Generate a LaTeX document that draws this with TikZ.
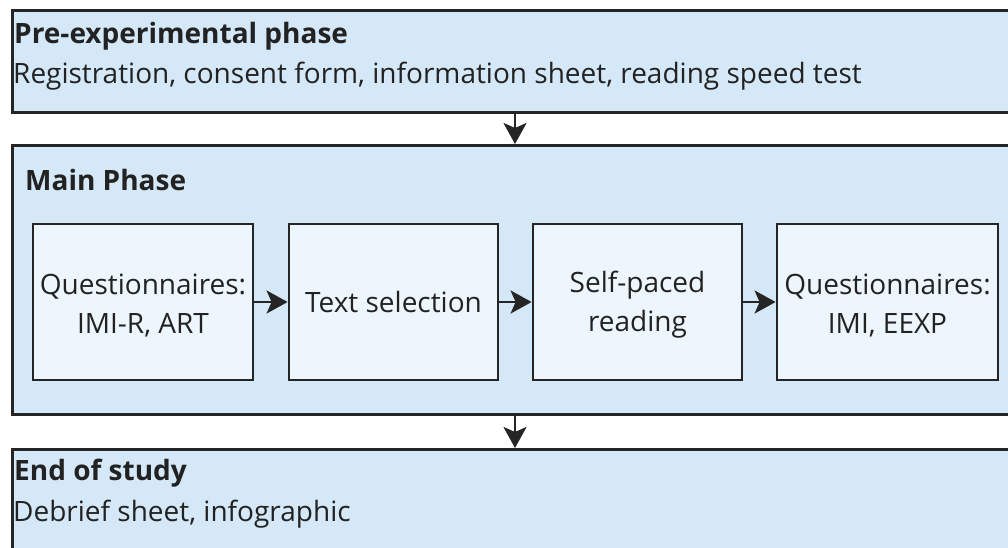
\documentclass[tikz,border=0pt]{standalone}
\usepackage{fontspec}
\setmainfont{Open Sans}
\usetikzlibrary{arrows.meta,calc}
\definecolor{phasefill}{HTML}{D4E8F8}
\definecolor{stepfill}{HTML}{EEF6FD}
\definecolor{edge}{HTML}{252525}
\definecolor{ink}{HTML}{222222}
\tikzset{
  phasebox/.style={draw=edge, fill=phasefill, line width=2.8pt, rectangle, inner sep=0pt, anchor=north west},
  stepbox/.style={draw=edge, fill=stepfill, line width=2.8pt, rectangle, inner sep=0pt,
    minimum width=220pt, minimum height=156pt, align=center, font=\fontsize{28}{39}\selectfont, text=ink},
  title/.style={anchor=west, font=\fontsize{28}{32}\selectfont\bfseries, text=ink, inner sep=0pt},
  body/.style={anchor=west, font=\fontsize{28}{32}\selectfont, text=ink, inner sep=0pt},
  flow/.style={draw=edge, line width=2.6pt, -{Stealth[length=21pt,width=23pt,inset=5pt]}},
}
\begin{document}
\begin{tikzpicture}[x=1pt,y=-1pt]
\useasboundingbox (0,0) rectangle (1008,547);
\clip (0,0) rectangle (1008,547);
% phase containers (running past the right and bottom edges)
\node[phasebox, minimum width=1020pt, minimum height=102pt] (pre) at (11,9) {};
\node[phasebox, minimum width=1020pt, minimum height=269pt] (main) at (11,144) {};
\node[phasebox, minimum width=1020pt, minimum height=120pt] (end) at (11,448) {};
% phase texts
\node[title] (pretitle) at (14,36) {Pre-experimental phase};
\node[body] (pretext) at (13,76) {Registration, consent form, information sheet, reading speed test};
\node[title] (maintitle) at (25,180) {Main Phase};
\node[title] (endtitle) at (14,473) {End of study};
\node[body] (endtext) at (13,514) {Debrief sheet, infographic};
% steps of the main phase
\node[stepbox] (s1) at (143,302) {\strut Questionnaires:\\IMI-R, ART};
\node[stepbox, minimum width=209pt] (s2) at (393.5,302) {Text selection};
\node[stepbox, minimum width=209pt] (s3) at (637.5,302) {\strut Self-paced\\reading};
\node[stepbox, minimum width=221pt] (s4) at (887.5,302) {\strut Questionnaires:\\IMI, EEXP};
\draw[flow] (s1) -- (s2);
\draw[flow] (s2) -- (s3);
\draw[flow] (s3) -- (s4);
% flow between phases
\coordinate (mid) at (515,0);
\draw[flow] (pre.south -| mid) -- (main.north -| mid);
\draw[flow] (main.south -| mid) -- (end.north -| mid);
\end{tikzpicture}
\end{document}
